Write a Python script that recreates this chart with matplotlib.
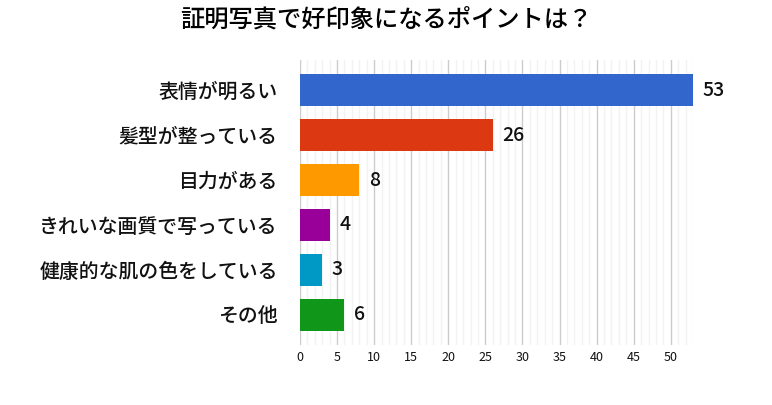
import numpy as np
import matplotlib
matplotlib.use('Agg')
import matplotlib.pyplot as plt
from matplotlib.ticker import MultipleLocator

plt.rcParams['font.family'] = ['Noto Sans CJK JP', 'DejaVu Sans']

title = '証明写真で好印象になるポイントは？'
categories = ['表情が明るい', '髪型が整っている', '目力がある',
              'きれいな画質で写っている', '健康的な肌の色をしている', 'その他']
values = [53, 26, 8, 4, 3, 6]
colors = ['#3366cc', '#dc3912', '#ff9900', '#990099', '#0099c6', '#109618']

fig = plt.figure(figsize=(7.72, 4.05), dpi=100)
ax = fig.add_axes([300/772, 1 - 345/405, 393/772, 285/405])

y = np.arange(len(categories))
ax.barh(y, values, height=0.69, color=colors, zorder=3)

for yi, v in zip(y, values):
    ax.text(v + 1.3, yi, str(v), va='center', ha='left', fontsize=14,
            color='#111111', fontweight='medium')

ax.set_xlim(0, 53)
ax.set_ylim(len(categories) - 1 + 0.667, -0.667)
ax.set_yticks(y)
ax.set_yticklabels(categories, fontsize=14.3, color='#111111', fontweight='medium')
ax.xaxis.set_major_locator(MultipleLocator(5))
ax.xaxis.set_minor_locator(MultipleLocator(1))
ax.tick_params(axis='x', which='both', length=0, labelsize=9, pad=4, colors='#111111')
ax.tick_params(axis='y', length=0, pad=16)

ax.grid(axis='x', which='minor', color='#f2f2f2', linewidth=1, zorder=0)
ax.grid(axis='x', which='major', color='#cccccc', linewidth=1, zorder=1)
for s in ax.spines.values():
    s.set_visible(False)

fig.text(0.5, 1 - 20/405, title, ha='center', va='center', fontsize=17.5,
         color='#000000', fontweight='medium')

fig.savefig('out.png', dpi=100)
